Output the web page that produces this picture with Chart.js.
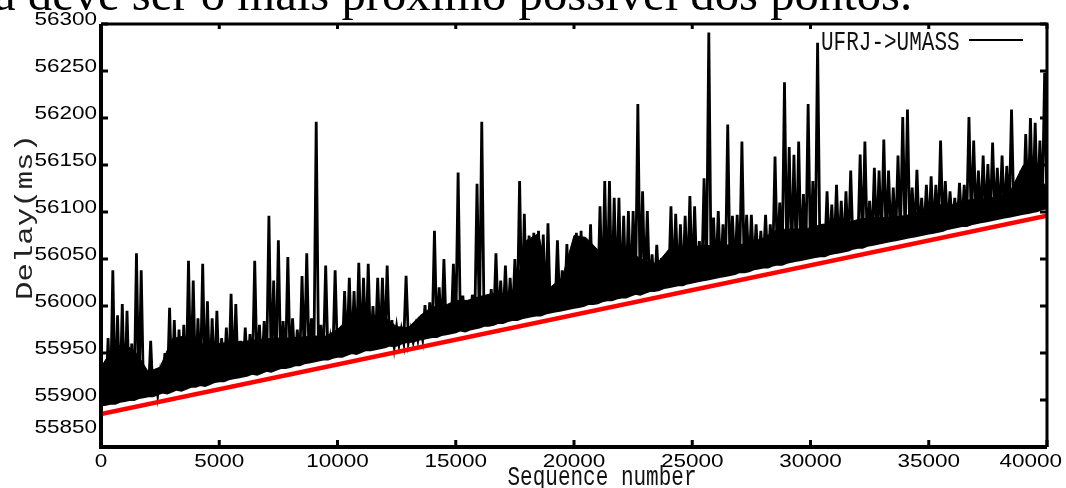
<!DOCTYPE html>
<html>
<head>
<meta charset="utf-8">
<script src="https://cdn.jsdelivr.net/npm/chart.js@4.4.0/dist/chart.umd.min.js"></script>
<style>
  html, body { margin: 0; padding: 0; background: #fff; }
  #wrap { width: 1066px; height: 488px; }
</style>
</head>
<body>
<div id="wrap"><canvas id="delayChart" width="1066" height="488"></canvas></div>
<script>
// Delay samples, one slot every 200 sequence numbers:
// floor value at the slot start, peak value half a slot later
const slotSize = 200;

const floorDelay = [
  55894, 55895, 55896, 55896, 55898, 55899, 55900, 55900, 55902, 55903,
  55904, 55904, 55906, 55908, 55907, 55909, 55911, 55910, 55912, 55914,
  55914, 55916, 55915, 55917, 55919, 55920, 55920, 55922, 55923, 55924,
  55925, 55926, 55928, 55927, 55929, 55931, 55930, 55932, 55934, 55934,
  55935, 55937, 55937, 55939, 55940, 55941, 55942, 55943, 55943, 55945,
  55946, 55946, 55948, 55950, 55949, 55951, 55953, 55953, 55954, 55955,
  55956, 55958, 55957, 55959, 55961, 55962, 55962, 55964, 55965, 55966,
  55967, 55967, 55969, 55970, 55971, 55972, 55974, 55973, 55975, 55976,
  55977, 55979, 55979, 55980, 55982, 55982, 55984, 55985, 55985, 55987,
  55988, 55989, 55990, 55990, 55992, 55993, 55994, 55995, 55996, 55997,
  55998, 55999, 56000, 56002, 56002, 56003, 56005, 56006, 56006, 56008,
  56009, 56009, 56011, 56013, 56012, 56014, 56016, 56016, 56017, 56019,
  56020, 56021, 56022, 56022, 56024, 56025, 56026, 56027, 56028, 56029,
  56030, 56031, 56032, 56033, 56034, 56036, 56036, 56037, 56039, 56040,
  56041, 56041, 56043, 56044, 56044, 56046, 56047, 56048, 56049, 56050,
  56051, 56052, 56053, 56053, 56055, 56056, 56057, 56058, 56059, 56061,
  56062, 56062, 56064, 56065, 56066, 56067, 56068, 56069, 56070, 56071,
  56072, 56073, 56074, 56075, 56076, 56077, 56078, 56079, 56080, 56082,
  56083, 56084, 56085, 56085, 56087, 56088, 56089, 56090, 56091, 56092,
  56093, 56094, 56095, 56096, 56097, 56098, 56099, 56100, 56101, 56103,
  56104
];

const peakDelay = [
  55935, 55966, 56038, 55990, 56002, 55995, 55960, 56056, 56038, 55922,
  55963, 55932, 55928, 55950, 55998, 55985, 55975, 55980, 56048, 56027,
  55987, 56045, 56005, 55987, 55995, 55966, 55977, 56013, 56002, 55963,
  55977, 55970, 56048, 55980, 55984, 56096, 56027, 56070, 55984, 56052,
  55987, 55975, 56032, 56056, 55987, 56196, 55980, 56043, 55965, 56038,
  55975, 56016, 56030, 56016, 56046, 56030, 56045, 56000, 56030, 56030,
  56043, 55985, 55978, 55975, 56032, 55975, 55978, 55981, 56001, 56004,
  56080, 56020, 56050, 56000, 56045, 56142, 56011, 56004, 56012, 56130,
  56196, 56000, 56018, 56056, 56027, 56043, 56030, 56050, 56133, 56098,
  56075, 56078, 56080, 56076, 56088, 56011, 56070, 56038, 56066, 56048,
  56078, 56080, 56069, 56087, 56030, 56106, 56133, 56133, 56115, 56115,
  56096, 56101, 56101, 56215, 56122, 56101, 56055, 56065, 56051, 56048,
  56106, 56098, 56087, 56096, 56117, 56106, 56069, 56136, 56291, 56094,
  56101, 56087, 56193, 56096, 56097, 56175, 56097, 56097, 56087, 56080,
  56097, 56087, 56159, 56110, 56238, 56169, 56161, 56175, 56119, 56215,
  56133, 56280, 56087, 56122, 56108, 56129, 56112, 56122, 56144, 56087,
  56161, 56175, 56112, 56147, 56144, 56177, 56144, 56126, 56160, 56201,
  56209, 56126, 56145, 56115, 56129, 56138, 56129, 56176, 56133, 56122,
  56115, 56131, 56129, 56201, 56176, 56144, 56160, 56151, 56174, 56147,
  56160, 56149, 56209, 56129, 56144, 56183, 56200, 56195, 56176, 56248
];

// Top of the solid (dense) part of the trace, every 500 sequence numbers
const bandStep = 500;
const bandTop = [
  55935, 55955, 55960, 55950, 55930, 55935, 55965, 55968, 55960, 55960,
  55960, 55962, 55962, 55964, 55965, 55966, 55966, 55967, 55968, 55968,
  55975, 55988, 55990, 55990, 55988, 55978, 55977, 55990, 55999, 56000,
  56006, 56006, 56010, 56013, 56013, 56015, 56070, 56077, 56020, 56030,
  56075, 56073, 56060, 56060, 56058, 56055, 56048, 56045, 56060, 56062,
  56062, 56065, 56063, 56065, 56065, 56068, 56072, 56080, 56082, 56082,
  56083, 56087, 56087, 56088, 56092, 56094, 56094, 56095, 56096, 56100,
  56105, 56108, 56108, 56112, 56114, 56115, 56116, 56125, 56150, 56145,
  56125
];

// Red lower-bound line
const fitSeq = [0, 40000];
const fitDelay = [55885, 56096];

const xTicks = [0, 5000, 10000, 15000, 20000, 25000, 30000, 35000, 40000];
const yTicks = [55850, 55900, 55950, 56000, 56050, 56100, 56150, 56200, 56250, 56300];

const seriesLabel = "UFRJ->UMASS";
const xTitle = "Sequence number";
const yTitle = "Delay(ms)";
const captionText = "a deve ser o mais próximo possível dos pontos.";

// Build the traces
const delayPoints = [];
floorDelay.forEach((v, k) => {
  delayPoints.push({ x: k * slotSize, y: v });
  if (k < peakDelay.length) {
    delayPoints.push({ x: k * slotSize + slotSize / 2, y: peakDelay[k] });
  }
});
const floorPoints = floorDelay.map((v, k) => ({ x: k * slotSize, y: v }));
const bandPoints = bandTop.map((v, i) => ({ x: i * bandStep, y: v }));
const fitPoints = fitSeq.map((s, i) => ({ x: s, y: fitDelay[i] }));

function drawText(ctx, text, x, y, opts) {
  ctx.save();
  ctx.translate(x, y);
  if (opts.rotate) ctx.rotate(opts.rotate);
  ctx.scale(opts.sx || 1, opts.sy || 1);
  ctx.font = opts.font;
  ctx.fillStyle = opts.color || "#000";
  ctx.textAlign = opts.align || "left";
  ctx.textBaseline = opts.baseline || "alphabetic";
  ctx.fillText(text, 0, 0);
  ctx.restore();
}

// gnuplot-style frame, inward ticks and all the text
const gnuplotFrame = {
  id: "gnuplotFrame",
  afterDraw(chart) {
    const { ctx, chartArea: a } = chart;
    const xs = chart.scales.x, ys = chart.scales.y;
    ctx.save();
    ctx.strokeStyle = "#000";
    ctx.lineCap = "butt";

    // frame
    ctx.lineWidth = 4;
    ctx.beginPath();
    ctx.moveTo(a.left, a.top);
    ctx.lineTo(a.left, a.bottom);
    ctx.lineTo(a.right, a.bottom);
    ctx.stroke();
    ctx.lineWidth = 3;
    ctx.beginPath();
    ctx.moveTo(a.left, a.top);
    ctx.lineTo(a.right, a.top);
    ctx.lineTo(a.right, a.bottom);
    ctx.stroke();

    // ticks
    ctx.lineWidth = 3;
    ctx.beginPath();
    xTicks.forEach(t => {
      const px = xs.getPixelForValue(t);
      ctx.moveTo(px, a.bottom); ctx.lineTo(px, a.bottom - 7);
      ctx.moveTo(px, a.top); ctx.lineTo(px, a.top + 5);
    });
    yTicks.forEach(t => {
      const py = ys.getPixelForValue(t);
      ctx.moveTo(a.left, py); ctx.lineTo(a.left + 7, py);
      ctx.moveTo(a.right, py); ctx.lineTo(a.right - 7, py);
    });
    ctx.stroke();

    // tick labels
    const tickFont = "18px 'Liberation Sans', Arial, sans-serif";
    yTicks.forEach(t => {
      let cy = ys.getPixelForValue(t) - 4;
      if (cy > 428) cy = 428;
      drawText(ctx, String(t), a.left - 4, cy, { font: tickFont, sx: 1.25, align: "right", baseline: "middle" });
    });
    ctx.font = tickFont;
    xTicks.forEach(t => {
      let cx = xs.getPixelForValue(t);
      const half = ctx.measureText(String(t)).width * 1.25 / 2;
      if (cx + half > 1062) cx = 1062 - half;
      drawText(ctx, String(t), cx, a.bottom + 6, { font: tickFont, sx: 1.25, align: "center", baseline: "top" });
    });

    // axis titles
    const monoFont = "28px 'Liberation Mono', 'Courier New', monospace";
    drawText(ctx, xTitle, 602, 485, { font: monoFont, sx: 0.75, align: "center", color: "#111" });
    drawText(ctx, yTitle, 32, 217, { font: "24px 'Liberation Mono', monospace", sx: 1.28, rotate: -Math.PI / 2, align: "center", color: "#222" });

    // key
    drawText(ctx, seriesLabel, 821, 50, { font: monoFont, sx: 0.75, color: "#111" });
    ctx.lineWidth = 2;
    ctx.beginPath();
    ctx.moveTo(969, 40); ctx.lineTo(1023, 40);
    ctx.stroke();

    // caption fragment cut at the top of the picture:
    // "a deve ser o mais próximo possível " runs from about x=-6 to x=690
    const capFamily = "'Liberation Serif', 'Times New Roman', serif";
    ctx.font = "40px " + capFamily;
    const w = ctx.measureText("a deve ser o mais próximo possível ").width;
    const size = 40 * 696 / w;
    drawText(ctx, captionText, -6, 10, { font: size.toFixed(1) + "px " + capFamily });

    ctx.restore();
  }
};

new Chart(document.getElementById("delayChart"), {
  type: "line",
  data: {
    datasets: [
      {
        label: "Fit",
        data: fitPoints,
        borderColor: "#ff0000",
        borderWidth: 4.5,
        pointRadius: 0,
        order: 0
      },
      {
        label: "floor",
        data: floorPoints,
        borderColor: "#000",
        borderWidth: 2,
        pointRadius: 0,
        order: 3
      },
      {
        label: "band",
        data: bandPoints,
        borderColor: "#000",
        borderWidth: 1,
        backgroundColor: "#000",
        fill: 1,
        pointRadius: 0,
        order: 2
      },
      {
        label: seriesLabel,
        data: delayPoints,
        borderColor: "#000",
        borderWidth: 2.8,
        pointRadius: 0,
        tension: 0,
        order: 1
      }
    ]
  },
  options: {
    responsive: false,
    animation: false,
    devicePixelRatio: 1,
    layout: { padding: { left: 101, right: 19, top: 24, bottom: 41 } },
    plugins: { legend: { display: false }, tooltip: { enabled: false }, filler: { propagate: false } },
    scales: {
      x: { type: "linear", min: 0, max: 40000, display: false },
      y: { type: "linear", min: 55850, max: 56300, display: false }
    }
  },
  plugins: [gnuplotFrame]
});
</script>
</body>
</html>
